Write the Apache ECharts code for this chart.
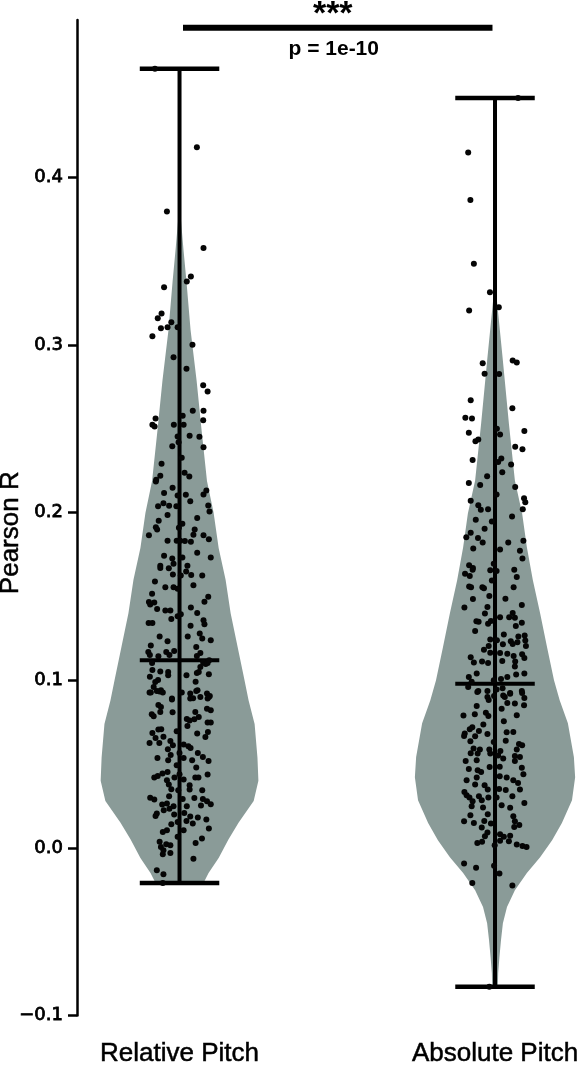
<!DOCTYPE html>
<html>
<head>
<meta charset="utf-8">
<script src="https://cdn.jsdelivr.net/npm/echarts@6/dist/echarts.min.js"></script>
<style>
  html, body { margin: 0; padding: 0; background: #fff; }
  #chart { width: 580px; height: 1066px; }
</style>
</head>
<body>
<div id="chart"></div>
<script>
// groups
var categories = ['Relative Pitch', 'Absolute Pitch'];
var positions = [1, 2];

// summary lines drawn on each violin
var minVals = [-0.0209, -0.0829];
var medianVals = [0.1119, 0.0980];
var maxVals = [0.4649, 0.4475];

// violin outline: [value, half width in x units], bottom to top
var relProfile = [[-0.0209,0.076],[-0.015,0.092],[-0.006,0.124],[0.005,0.155],[0.015,0.187],[0.028,0.235],
  [0.040,0.250],[0.054,0.247],[0.074,0.238],[0.088,0.219],[0.100,0.206],[0.120,0.184],[0.140,0.162],
  [0.160,0.146],[0.179,0.124],[0.200,0.108],[0.219,0.087],[0.249,0.070],[0.279,0.054],[0.309,0.035],
  [0.338,0.022],[0.356,0.013],[0.378,0.003],[0.400,0.0005],[0.4649,0]];
var absProfile = [[-0.0829,0.009],[-0.0747,0.010],[-0.0652,0.014],[-0.055,0.019],[-0.0449,0.025],
  [-0.0353,0.038],[-0.0252,0.063],[-0.015,0.101],[-0.0055,0.143],[0.0046,0.181],[0.0148,0.212],
  [0.0285,0.244],[0.0422,0.254],[0.0542,0.250],[0.0744,0.231],[0.0881,0.205],[0.1001,0.187],
  [0.1197,0.165],[0.140,0.143],[0.1597,0.120],[0.1794,0.101],[0.1996,0.086],[0.2193,0.063],
  [0.2533,0.044],[0.2926,0.024],[0.3325,0.003],[0.350,0.0005],[0.4475,0]];

// jittered observations: [x offset from group centre, Pearson R]
var relPoints = [[0.055,0.418],[-0.078,0.4649],[-0.040,0.3797],[0.076,0.358],[0.036,0.341],[0.023,0.338],
  [-0.049,0.3345],[-0.057,0.3188],[-0.069,0.316],[-0.026,0.3137],[-0.038,0.3107],[-0.059,0.310],
  [-0.006,0.3107],[-0.086,0.3053],[0.041,0.3002],[-0.019,0.2928],[0.022,0.2859],[0.075,0.2761],
  [0.089,0.2723],[0.042,0.2608],[0.076,0.2608],[-0.076,0.2562],[0.010,0.2578],[0.075,0.2552],
  [-0.086,0.2525],[-0.079,0.2515],[-0.018,0.2525],[0.013,0.2525],[-0.006,0.2455],[0.032,0.2459],
  [0.063,0.2453],[-0.023,0.2397],[0.076,0.2391],[-0.003,0.2421],[0.007,0.2328],[-0.057,0.2292],
  [0.016,0.2238],[0.031,0.2216],[-0.061,0.2221],[-0.074,0.2197],
  [-0.075,0.2187],[-0.022,0.2149],[-0.049,0.2117],[-0.006,0.2103],[0.020,0.2107],[0.076,0.2109],
  [0.085,0.2133],[0.034,0.2069],[-0.051,0.2057],[-0.068,0.2039],[-0.033,0.2042],[-0.010,0.2038],
  [0.091,0.2043],[0.095,0.2008],[-0.038,0.1986],[0.056,0.1968],[-0.066,0.1952],[0.009,0.1934],
  [-0.075,0.1914],[-0.071,0.19],[-0.002,0.1911],[0.048,0.19],[0.044,0.1869],[0.076,0.1865],
  [-0.097,0.1865],[0.093,0.1841],[-0.038,0.1833],[-0.009,0.1833],[0.002,0.1833],[0.017,0.1831],
  [0.036,0.1827],[0.056,0.1761],[0.099,0.1733],[-0.049,0.1744],[-0.023,0.1727],[0.009,0.1733],
  [-0.061,0.1684],[-0.061,0.167],[-0.034,0.1668],[-0.019,0.1696],[0.025,0.1684],[0.021,0.165],
  [-0.021,0.1632],[0.037,0.1628],[0.072,0.1626],[0.004,0.1626],[-0.078,0.1589],[-0.045,0.1555],
  [-0.019,0.1556],[-0.006,0.1547],[0.044,0.1567],[0.091,0.1499],[-0.087,0.1517],[-0.097,0.1467],
  [-0.080,0.1465],[0.079,0.1469],[-0.093,0.1453],[-0.071,0.1425],[-0.045,0.1416],[-0.029,0.1417],
  [0.036,0.1434],[-0.006,0.1382],[0.004,0.1394],[0.056,0.1401],[-0.026,0.1366],[0.076,0.1358],
  [-0.098,0.1342],[-0.086,0.1342],[0.079,0.1334],[0.035,0.1326],[0.064,0.128],[-0.063,0.1262],
  [0.026,0.1261],[0.072,0.125],[0.099,0.1239],[-0.038,0.1233],[-0.091,0.1207],[0.053,0.1199],
  [-0.017,0.1175],[-0.042,0.1169],[-0.099,0.1169],[0.066,0.1163],[-0.094,0.1151],[-0.067,0.1143],
  [-0.032,0.1151],[0.055,0.1145],[-0.087,0.1103],[0.075,0.1107],[0.083,0.1097],[0.089,0.1103],
  [0.094,0.1119],[0.066,0.1079],[-0.086,0.1061],[-0.061,0.1052],[-0.036,0.105],[-0.036,0.103],
  [0.055,0.1044],[0.061,0.105],[0.093,0.1036],[0.022,0.103],[-0.094,0.1022],[-0.068,0.1002],
  [-0.077,0.099],[0.051,0.0992],[-0.082,0.096],[-0.059,0.094],[-0.072,0.0936],[-0.095,0.0927],
  [0.007,0.0928],[0.053,0.0936],[0.087,0.0921],[0.066,0.09],[-0.024,0.0891],[0.034,0.0891],[0.093,0.09],
  [-0.091,0.0927],[-0.063,0.0934],[-0.053,0.0927],[0.034,0.0922],[0.057,0.094],[0.096,0.0906],
  [0.043,0.0893],[-0.024,0.0885],[0.089,0.0891],[-0.067,0.0853],[-0.059,0.0841],[0.087,0.0831],
  [0.099,0.0821],[0.050,0.0811],[-0.022,0.0809],[-0.061,0.0811],[-0.088,0.0797],[-0.082,0.0785],
  [0.061,0.0781],[0.023,0.0769],[0.047,0.0767],[0.032,0.076],[0.089,0.0748],[0.099,0.0748],
  [0.025,0.0727],[-0.067,0.0706],[-0.058,0.0708],[-0.086,0.0686],[0.090,0.0692],[-0.009,0.0696],
  [0.056,0.0682],[-0.051,0.0664],[-0.076,0.0656],[0.082,0.0662],[-0.029,0.0638],[-0.095,0.0626],
  [-0.064,0.0626],[0.013,0.0617],[-0.021,0.0612],[0.028,0.0606],[0.035,0.0596],[-0.037,0.0589],
  [0.058,0.0566],[0.000,0.0566],[-0.028,0.0555],[-0.070,0.0537],[0.013,0.0537],[0.074,0.0543],
  [0.092,0.0519],[-0.036,0.0523],[0.040,0.0523],[-0.009,0.0493],[0.053,0.048],[-0.038,0.0453],
  [-0.054,0.0444],[0.000,0.044],[0.089,0.0438],[-0.080,0.042],[-0.069,0.0429],[-0.016,0.042],
  [0.050,0.042],[0.060,0.042],[-0.040,0.0404],[0.013,0.0408],[-0.034,0.0378],[0.032,0.0374],
  [-0.026,0.035],[-0.004,0.0344],[0.032,0.0348],[0.072,0.0344],[-0.093,0.03],[-0.080,0.0289],
  [-0.033,0.0308],[0.010,0.0292],[0.047,0.0298],[0.074,0.0292],[0.087,0.0278],[0.099,0.0261],
  [-0.055,0.0259],[-0.040,0.0265],[-0.019,0.0249],[0.023,0.0249],[0.068,0.0253],[-0.050,0.0225],
  [-0.032,0.0233],[-0.072,0.0205],[-0.076,0.0191],[-0.017,0.0199],[0.015,0.0209],[0.034,0.0187],
  [0.058,0.0181],[0.085,0.0169],[0.022,0.0161],[-0.006,0.0155],[0.042,0.0146],[-0.026,0.0141],
  [0.093,0.0116],[-0.040,0.0106],[-0.053,0.0095],[0.013,0.0106],[-0.006,0.0066],[0.071,0.0056],
  [-0.063,0.0036],[0.051,0.003],[-0.042,0.0022],[-0.029,0.0016],[-0.059,0.0006],[-0.051,-0.0014],
  [-0.029,-0.003],[-0.053,-0.0038],[0.044,-0.0064],[-0.072,-0.0133],[-0.051,-0.0157],[-0.053,-0.0209]];

var absPoints = [[0.073,0.4475],[-0.085,0.415],[-0.078,0.3866],[-0.067,0.3485],[-0.016,0.3315],
  [0.012,0.3226],[-0.082,0.3206],[-0.039,0.2892],[0.056,0.2908],[0.069,0.2896],[-0.033,0.2829],
  [0.013,0.2827],[-0.077,0.2671],[0.055,0.2624],[-0.094,0.2567],[-0.073,0.2562],[0.006,0.2501],
  [0.016,0.2467],[0.093,0.2487],[-0.083,0.2477],[-0.062,0.2427],[-0.053,0.2437],[0.064,0.2394],
  [0.087,0.2379],[-0.071,0.2314],[0.020,0.2324],[0.010,0.2302],[0.051,0.2288],[0.023,0.2242],
  [-0.025,0.2218],
  [-0.083,0.2177],[-0.047,0.2165],[0.064,0.2153],[0.005,0.2109],[0.092,0.2087],[0.096,0.2063],
  [-0.077,0.2072],[-0.053,0.2045],[-0.045,0.2018],[-0.022,0.2021],[0.088,0.202],[0.054,0.1978],
  [-0.061,0.1958],[-0.010,0.1948],[-0.077,0.1881],[-0.033,0.1905],[-0.091,0.1853],[-0.054,0.1849],
  [-0.039,0.1823],[0.042,0.1823],[0.090,0.1833],[-0.069,0.1787],[0.016,0.1781],[0.079,0.1773],
  [0.087,0.1727],[-0.004,0.1696],[-0.082,0.1686],[-0.070,0.167],[-0.071,0.166],[-0.015,0.1656],
  [0.005,0.1652],[0.061,0.166],[-0.095,0.1636],[-0.080,0.1622],[0.069,0.1616],[-0.010,0.1596],
  [-0.082,0.156],[-0.076,0.1555],[-0.040,0.1556],[-0.035,0.1549],[0.059,0.1556],[-0.018,0.1503],
  [-0.070,0.1485],[0.033,0.1487],[-0.097,0.1435],[-0.024,0.1437],[0.085,0.1449],[-0.032,0.1398],
  [0.056,0.1401],[0.016,0.1377],[0.045,0.1376],[0.063,0.1374],[-0.059,0.1352],[-0.052,0.135],
  [-0.022,0.1338],[-0.013,0.1354],[0.085,0.1344],[0.066,0.1324],[-0.063,0.1294],[0.028,0.1274],
  [0.074,0.1262],[0.094,0.1268],[-0.015,0.1243],[0.006,0.1239],[0.050,0.1233],[0.071,0.1227],
  [0.096,0.1237],[0.025,0.1215],[0.056,0.1216],[0.098,0.1205],[-0.020,0.1205],[-0.035,0.1183],
  [-0.015,0.1165],[0.016,0.1163],[0.039,0.1159],[0.086,0.1155],[0.059,0.1145],[0.093,0.1133],
  [-0.077,0.1137],[-0.067,0.1107],[-0.041,0.1113],[-0.022,0.1103],[0.023,0.1115],[0.064,0.1113],
  [0.063,0.1083],[-0.058,0.104],[-0.083,0.102],[0.067,0.1034],[0.093,0.104],[0.019,0.1008],
  [0.039,0.102],[-0.004,0.1],[-0.074,0.0992],[-0.085,0.096],[-0.053,0.0936],[0.005,0.0945],
  [0.024,0.0952],[0.048,0.0924],[0.085,0.0936],[-0.024,0.09],[-0.003,0.0906],[0.031,0.09],[0.093,0.0894],
  [-0.056,0.093],[-0.024,0.0936],[0.026,0.091],[0.048,0.092],[0.086,0.0924],[0.039,0.0865],
  [0.063,0.0861],[0.092,0.0851],[-0.058,0.0847],[-0.020,0.0882],[-0.100,0.079],[-0.064,0.0797],
  [-0.029,0.0807],[-0.021,0.0787],[0.021,0.0831],[0.069,0.0791],[0.028,0.0756],[-0.037,0.0736],
  [-0.080,0.0708],[-0.072,0.072],[-0.051,0.0698],[-0.024,0.068],[0.037,0.069],[0.058,0.0692],
  [-0.096,0.0682],[-0.098,0.0668],[-0.063,0.0666],[-0.078,0.0636],[-0.004,0.0632],[0.034,0.064],
  [0.076,0.062],[0.086,0.0612],[-0.068,0.0593],[-0.048,0.0587],[-0.018,0.0587],[0.017,0.0578],
  [0.069,0.0587],[-0.077,0.0565],[-0.055,0.0563],[-0.015,0.0563],[0.010,0.0551],[0.063,0.0549],
  [0.079,0.0543],[-0.093,0.0519],[-0.058,0.0523],[0.026,0.0533],[0.063,0.0519],[-0.017,0.0483],
  [0.015,0.0485],[-0.083,0.0471],[-0.055,0.0463],[-0.044,0.0453],[0.085,0.0479],[0.090,0.0439],
  [0.015,0.0428],[0.037,0.042],[-0.090,0.0404],[-0.058,0.042],[0.058,0.0404],[0.073,0.0388],
  [-0.063,0.0378],[-0.033,0.0374],[-0.023,0.0348],[0.013,0.0352],[0.034,0.0346],[0.079,0.0348],
  [-0.097,0.0334],[-0.090,0.0314],[-0.081,0.0301],[-0.051,0.0308],[-0.021,0.0301],[0.005,0.0301],
  [0.055,0.0308],[0.093,0.0268],[-0.071,0.0278],[-0.042,0.0284],[-0.074,0.0249],[-0.038,0.0241],
  [0.048,0.0239],[0.021,0.0255],[-0.078,0.0195],[-0.023,0.0201],[0.058,0.0189],[-0.098,0.0159],
  [-0.067,0.0149],[-0.034,0.0161],[-0.013,0.0146],[0.063,0.0159],[0.077,0.0137],[-0.042,0.0122],
  [0.061,0.0125],[-0.024,0.0092],[-0.032,0.007],[0.016,0.0082],[0.028,0.0066],[0.048,0.0072],
  [-0.056,0.003],[-0.041,0.0036],[0.016,0.0042],[0.044,0.004],[-0.001,0.0016],[0.069,0.002],
  [0.087,0.0012],[0.100,0.0006],[-0.098,-0.0093],[-0.060,-0.0119],[-0.003,-0.0107],[0.014,-0.0153],
  [-0.072,-0.0209],[0.055,-0.0224],[-0.018,-0.0829]];

// significance annotation
var sigSpan = [1.011, 1.992];
var sigLevel = 0.4894;
var sigStars = '***';
var sigText = 'p = 1e-10';

// y axis ticks
var yTicks = [-0.1, 0.0, 0.1, 0.2, 0.3, 0.4];

var violinColor = '#8a9b98';
var fontAx = "'Liberation Sans', Arial, sans-serif";
var capHalf = 0.126;

var profiles = [relProfile, absProfile];
var pointSets = [relPoints, absPoints];

var chart = echarts.init(document.getElementById('chart'), null, { renderer: 'canvas' });

function renderViolin(params, api) {
  var i = params.dataIndex;
  var cx = positions[i];
  var prof = profiles[i];
  var pts = [];
  prof.forEach(function (p) { pts.push(api.coord([cx + p[1], p[0]])); });
  prof.slice().reverse().forEach(function (p) { pts.push(api.coord([cx - p[1], p[0]])); });
  return { type: 'polygon', shape: { points: pts }, style: { fill: violinColor } };
}

function renderBars(params, api) {
  var i = params.dataIndex;
  var cx = positions[i];
  function seg(x1, y1, x2, y2, w) {
    var a = api.coord([x1, y1]), b = api.coord([x2, y2]);
    return { type: 'line', shape: { x1: a[0], y1: a[1], x2: b[0], y2: b[1] },
      style: { stroke: '#000', lineWidth: w } };
  }
  return { type: 'group', children: [
    seg(cx, minVals[i], cx, maxVals[i], 4),
    seg(cx - capHalf, minVals[i], cx + capHalf, minVals[i], 4.5),
    seg(cx - capHalf, maxVals[i], cx + capHalf, maxVals[i], 4.5),
    seg(cx - capHalf, medianVals[i], cx + capHalf, medianVals[i], 4)
  ] };
}

function renderSig(params, api) {
  var a = api.coord([sigSpan[0], sigLevel]);
  var b = api.coord([sigSpan[1], sigLevel]);
  var mid = (a[0] + b[0]) / 2;
  return { type: 'group', children: [
    { type: 'line', shape: { x1: a[0], y1: a[1], x2: b[0], y2: b[1] }, style: { stroke: '#000', lineWidth: 6 } },
    { type: 'text', style: { text: sigStars, x: mid - 5, y: a[1] + 4, fill: '#000',
        font: 'bold 34px ' + fontAx, align: 'center', verticalAlign: 'bottom' } },
    { type: 'text', style: { text: sigText, x: mid - 4, y: a[1] + 11, fill: '#000',
        font: 'bold 21px ' + fontAx, align: 'center', verticalAlign: 'top' } }
  ] };
}

var scatterSeries = pointSets.map(function (set, i) {
  return {
    type: 'scatter',
    data: set.map(function (p) { return [positions[i] + p[0], p[1]]; }),
    symbolSize: 6,
    itemStyle: { color: '#050505', opacity: 1 },
    z: 4,
    silent: true
  };
});

chart.setOption({
  animation: false,
  backgroundColor: '#fff',
  grid: { left: 77, right: 0, top: 20, bottom: 50.5, containLabel: false, outerBoundsMode: 'none' },
  xAxis: {
    type: 'value',
    min: 0.675,
    max: 2.2694,
    axisLine: { show: false },
    axisTick: { show: false },
    splitLine: { show: false },
    axisLabel: {
      customValues: positions,
      formatter: function (v) { return categories[positions.indexOf(v)] || ''; },
      color: '#000',
      fontSize: 26,
      fontFamily: fontAx,
      textBorderColor: '#000',
      textBorderWidth: 0.5,
      margin: 25
    }
  },
  yAxis: {
    type: 'value',
    min: -0.1,
    max: 0.494,
    name: 'Pearson R',
    nameLocation: 'middle',
    nameGap: 53,
    nameMoveOverlap: false,
    nameTextStyle: { color: '#000', fontSize: 26, fontFamily: fontAx, textBorderColor: '#000',
      textBorderWidth: 0.5, padding: [0, 30, 0, 0] },
    axisLine: { show: true, lineStyle: { color: '#000', width: 2.5 } },
    axisTick: { show: true, customValues: yTicks, length: 9, lineStyle: { color: '#000', width: 2.5 } },
    splitLine: { show: false },
    axisLabel: {
      customValues: yTicks,
      formatter: function (v) { return v < 0 ? '\u2212' + (-v).toFixed(1) : v.toFixed(1); },
      color: '#000',
      fontSize: 18,
      fontFamily: "'DejaVu Sans', sans-serif",
      textBorderColor: '#000',
      textBorderWidth: 0.8,
      margin: 14
    }
  },
  series: [
    {
      type: 'custom',
      renderItem: renderViolin,
      data: positions.map(function (p, i) { return [p, medianVals[i]]; }),
      z: 1,
      silent: true
    },
    {
      type: 'custom',
      renderItem: renderBars,
      data: positions.map(function (p, i) { return [p, medianVals[i]]; }),
      z: 2,
      silent: true
    }
  ].concat(scatterSeries).concat([
    {
      type: 'custom',
      renderItem: renderSig,
      data: [[sigSpan[0], sigLevel]],
      clip: false,
      z: 5,
      silent: true
    }
  ])
});
</script>
</body>
</html>
